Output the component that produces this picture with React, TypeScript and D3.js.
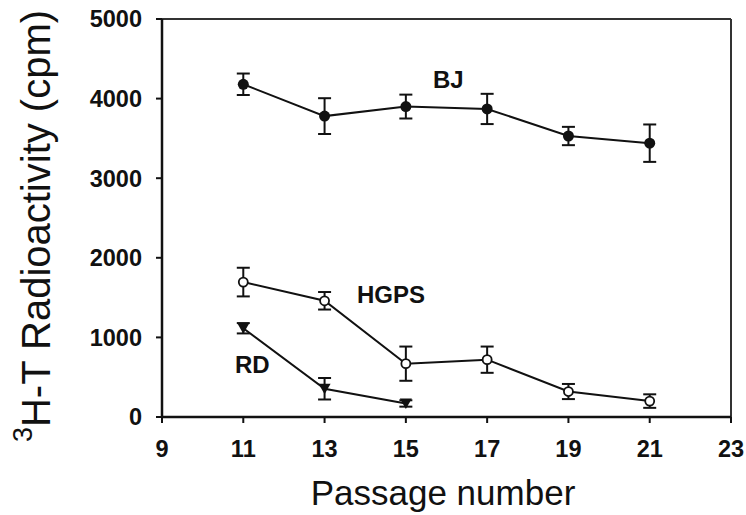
import React from "react";
import * as d3 from "d3";

// Passage numbers at which each cell line was measured
const bjPassages = [11, 13, 15, 17, 19, 21];
const bjMean = [4180, 3780, 3900, 3870, 3530, 3440];
const bjErr = [135, 225, 150, 190, 115, 235];

const hgpsPassages = [11, 13, 15, 17, 19, 21];
const hgpsMean = [1695, 1460, 670, 720, 320, 200];
const hgpsErr = [180, 110, 215, 165, 95, 85];

const rdPassages = [11, 13, 15];
const rdMean = [1115, 355, 170];
const rdErr = [65, 135, 40];

const xTicks = [9, 11, 13, 15, 17, 19, 21, 23];
const yTicks = [0, 1000, 2000, 3000, 4000, 5000];

const W = 746;
const H = 515;
const left = 162;
const right = 731;
const top = 19;
const bottom = 417;

const FONT = "'Liberation Sans', Arial, Helvetica, sans-serif";

type Pt = { x: number; y: number; e: number };

const zip = (xs: number[], ys: number[], es: number[]): Pt[] =>
  xs.map((x, i) => ({ x, y: ys[i], e: es[i] }));

export default function App() {
  const x = d3.scaleLinear().domain([9, 23]).range([left, right]);
  const y = d3.scaleLinear().domain([0, 5000]).range([bottom, top]);
  const line = d3
    .line<Pt>()
    .x((d) => x(d.x))
    .y((d) => y(d.y));

  const bj = zip(bjPassages, bjMean, bjErr);
  const hgps = zip(hgpsPassages, hgpsMean, hgpsErr);
  const rd = zip(rdPassages, rdMean, rdErr);

  const cap = 6.5;
  const errorBars = (pts: Pt[], key: string) =>
    pts.map((d, i) => (
      <g key={key + i} stroke="#111" strokeWidth={2}>
        <line x1={x(d.x)} x2={x(d.x)} y1={y(d.y - d.e)} y2={y(d.y + d.e)} />
        <line x1={x(d.x) - cap} x2={x(d.x) + cap} y1={y(d.y - d.e)} y2={y(d.y - d.e)} />
        <line x1={x(d.x) - cap} x2={x(d.x) + cap} y1={y(d.y + d.e)} y2={y(d.y + d.e)} />
      </g>
    ));

  const tri = (cx: number, cy: number) =>
    `M${cx - 6},${cy - 5}L${cx + 6},${cy - 5}L${cx},${cy + 5.5}Z`;

  return (
    <svg
      width={W}
      height={H}
      style={{ position: "absolute", left: 0, top: 0, background: "#fff" }}
      fontFamily={FONT}
    >
      <rect width={W} height={H} fill="#fff" />

      {/* frame */}
      <line x1={left} x2={right} y1={top} y2={top} stroke="#333" strokeWidth={2} />
      <line x1={right} x2={right} y1={top} y2={bottom} stroke="#333" strokeWidth={2} />
      <line x1={left} x2={left} y1={top} y2={bottom} stroke="#111" strokeWidth={2.5} />
      <line x1={left} x2={right} y1={bottom} y2={bottom} stroke="#111" strokeWidth={2.5} />

      {/* y axis */}
      {yTicks.map((t) => (
        <g key={"y" + t}>
          <line x1={left - 6} x2={left} y1={y(t)} y2={y(t)} stroke="#111" strokeWidth={2} />
          <text
            x={left - 20}
            y={y(t)}
            dy="0.36em"
            textAnchor="end"
            fontSize={23.5}
            fontWeight="bold"
            fill="#111"
          >
            {t}
          </text>
        </g>
      ))}

      {/* x axis */}
      {xTicks.map((t) => (
        <g key={"x" + t}>
          <line x1={x(t)} x2={x(t)} y1={bottom} y2={bottom + 6} stroke="#111" strokeWidth={2} />
          <text
            x={x(t)}
            y={457}
            textAnchor="middle"
            fontSize={23.5}
            fontWeight="bold"
            fill="#111"
          >
            {t}
          </text>
        </g>
      ))}

      {/* axis titles */}
      <text x={443} y={505} textAnchor="middle" fontSize={35} fill="#111">
        Passage number
      </text>
      <text
        transform="translate(50,226) rotate(-90)"
        textAnchor="middle"
        fontSize={40}
        fill="#111"
      >
        <tspan fontSize={27} dy={-18}>3</tspan>
        <tspan dy={18}>H-T Radioactivity (cpm)</tspan>
      </text>

      {/* series lines */}
      <path d={line(bj) || ""} fill="none" stroke="#111" strokeWidth={2} />
      <path d={line(hgps) || ""} fill="none" stroke="#111" strokeWidth={2} />
      <path d={line(rd) || ""} fill="none" stroke="#111" strokeWidth={2} />

      {errorBars(bj, "bj")}
      {errorBars(hgps, "hg")}
      {errorBars(rd, "rd")}

      {/* markers */}
      {bj.map((d, i) => (
        <circle key={"bjm" + i} cx={x(d.x)} cy={y(d.y)} r={5.5} fill="#111" />
      ))}
      {hgps.map((d, i) => (
        <circle
          key={"hgm" + i}
          cx={x(d.x)}
          cy={y(d.y)}
          r={4.5}
          fill="#fff"
          stroke="#111"
          strokeWidth={1.8}
        />
      ))}
      {rd.map((d, i) => (
        <path key={"rdm" + i} d={tri(x(d.x), y(d.y))} fill="#111" />
      ))}

      {/* series labels */}
      <text x={433} y={88} fontSize={24} fontWeight="bold" fill="#111">BJ</text>
      <text x={357} y={303} fontSize={24} fontWeight="bold" fill="#111">HGPS</text>
      <text x={235} y={373} fontSize={24} fontWeight="bold" fill="#111">RD</text>
    </svg>
  );
}
